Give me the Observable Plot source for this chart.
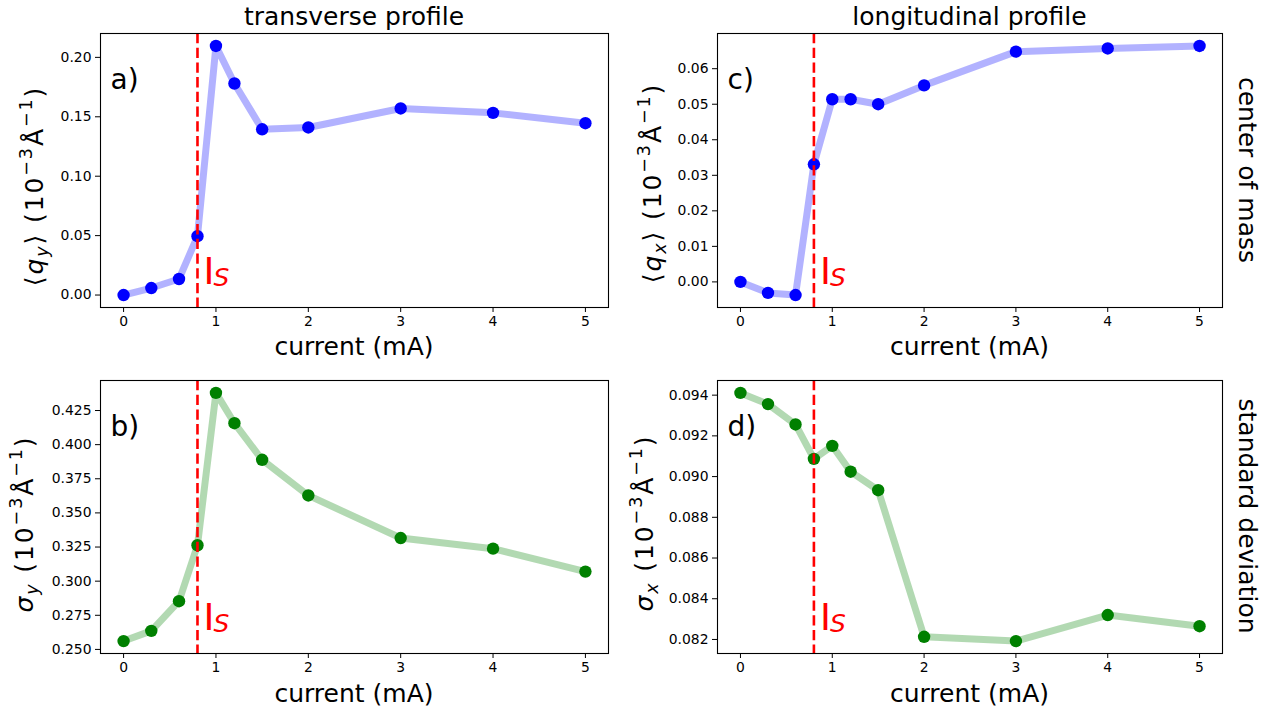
<!DOCTYPE html>
<html><head><meta charset="utf-8">
<script src="https://cdn.jsdelivr.net/npm/d3@7"></script>
<script src="https://cdn.jsdelivr.net/npm/@observablehq/plot@0.6"></script>
<style>
html,body{margin:0;padding:0;background:#fff;}
#fig{position:relative;width:1283px;height:715px;overflow:hidden;background:#fff;font-family:"DejaVu Sans",sans-serif;}
#fig svg{position:absolute;overflow:visible;}
</style></head><body><div id="fig"></div>
<script>
// ---- data ----
const current = [0, 0.3, 0.6, 0.8, 1, 1.2, 1.5, 2, 3, 4, 5];
const qyMean = [0, 0.0059, 0.0135, 0.0495, 0.2096, 0.178, 0.1395, 0.141, 0.157, 0.1533, 0.1446];
const qxMean = [0, -0.0031, -0.0037, 0.0331, 0.0514, 0.0514, 0.0500, 0.0553, 0.0648, 0.0657, 0.0664];
const sigmaY = [0.2561, 0.2636, 0.2853, 0.3263, 0.4379, 0.4157, 0.3889, 0.3628, 0.3316, 0.3238, 0.3070];
const sigmaX = [0.09411, 0.09356, 0.09256, 0.09087, 0.09151, 0.09024, 0.08933, 0.08213, 0.08192, 0.0832, 0.08265];
const currentS = 0.8;
const xTicks = [0, 1, 2, 3, 4, 5];
const qyTicks = [0, 0.05, 0.10, 0.15, 0.20];
const qxTicks = [0, 0.01, 0.02, 0.03, 0.04, 0.05, 0.06];
const syTicks = [0.250, 0.275, 0.300, 0.325, 0.350, 0.375, 0.400, 0.425];
const sxTicks = [0.082, 0.084, 0.086, 0.088, 0.090, 0.092, 0.094];
const columnTitles = ["transverse profile", "longitudinal profile"];
const rowTitles = ["center of mass", "standard deviation"];
const panelLetters = ["a)", "b)", "c)", "d)"];
const xLabel = "current (mA)";
const thresholdLabel = ["I", "S"];

const BLUE = "#0000ff", GREEN = "#008000", RED = "#ff0000";

// y label pieces: [text, kind]
const ylabQy = [["⟨",""],["q","i"],["y","sub"],["⟩ (10",""],["−3","sup"],["Å",""],["−1","sup"],[")",""]];
const ylabQx = [["⟨",""],["q","i"],["x","sub"],["⟩ (10",""],["−3","sup"],["Å",""],["−1","sup"],[")",""]];
const ylabSy = [["σ","i"],["y","sub"],[" (10",""],["−3","sup"],["Å",""],["−1","sup"],[")",""]];
const ylabSx = [["σ","i"],["x","sub"],[" (10",""],["−3","sup"],["Å",""],["−1","sup"],[")",""]];

const panels = [
  {values: qyMean, ticks: qyTicks, fmt: d3.format(".2f"), color: BLUE, letter: panelLetters[0],
   left: 0, top: 0, w: 640, h: 360, ml: 100, mr: 32, mt: 33, mb: 53,
   title: columnTitles[0], xl: 354, xlY: 355, ylab: ylabQy, ylX: 43, ylY: 186},
  {values: qxMean, ticks: qxTicks, fmt: d3.format(".2f"), color: BLUE, letter: panelLetters[2],
   left: 640, top: 0, w: 643, h: 360, ml: 77, mr: 61, mt: 33, mb: 53,
   title: columnTitles[1], xl: 329.5, xlY: 355, ylab: ylabQx, ylX: 21, ylY: 183, row: rowTitles[0], rowY: 170},
  {values: sigmaY, ticks: syTicks, fmt: d3.format(".3f"), color: GREEN, letter: panelLetters[1],
   left: 0, top: 360, w: 640, h: 355, ml: 100, mr: 32, mt: 20, mb: 62,
   xl: 354, xlY: 342, ylab: ylabSy, ylX: 33, ylY: 164},
  {values: sigmaX, ticks: sxTicks, fmt: d3.format(".3f"), color: GREEN, letter: panelLetters[3],
   left: 640, top: 360, w: 643, h: 355, ml: 77, mr: 61, mt: 20, mb: 62,
   xl: 329.5, xlY: 342, ylab: ylabSx, ylX: 13, ylY: 163, row: rowTitles[1], rowY: 156}
];

const fig = document.getElementById("fig");
const xext = d3.extent(current), xpad = (xext[1] - xext[0]) * 0.05;

for (const p of panels) {
  const data = current.map((c, i) => ({c, v: p.values[i]}));
  const ext = d3.extent(p.values), pad = (ext[1] - ext[0]) * 0.05;
  const svg = Plot.plot({
    width: p.w, height: p.h,
    marginLeft: p.ml, marginRight: p.mr, marginTop: p.mt, marginBottom: p.mb,
    style: {fontFamily: "DejaVu Sans", fontSize: "13.9px", color: "black", background: "transparent", overflow: "visible"},
    x: {domain: [xext[0] - xpad, xext[1] + xpad]},
    y: {domain: [ext[0] - pad, ext[1] + pad]},
    marks: [
      Plot.line(data, {x: "c", y: "v", stroke: p.color, strokeOpacity: 0.3, strokeWidth: 7, strokeLinejoin: "round", strokeLinecap: "butt"}),
      Plot.dot(data, {x: "c", y: "v", r: 6.2, fill: p.color, stroke: "none"}),
      Plot.ruleX([currentS], {x: d => d, stroke: RED, strokeWidth: 2.6, strokeDasharray: "10.3,4.4"}),
      Plot.text([p.letter], {frameAnchor: "top-left", dx: 10, dy: 55, text: d => d, fontSize: 28, textAnchor: "start", lineAnchor: "bottom", fill: "black"}),
      Plot.text([currentS], {x: d => d, frameAnchor: "bottom", dx: 6, dy: -24, text: () => thresholdLabel[0], fill: RED, fontSize: 37, textAnchor: "start", lineAnchor: "bottom"}),
      Plot.text([currentS], {x: d => d, frameAnchor: "bottom", dx: 16, dy: -22, text: () => thresholdLabel[1], fill: RED, fontSize: 25, fontStyle: "italic", textAnchor: "start", lineAnchor: "bottom"}),
      Plot.axisX(xTicks, {tickSize: 5, tickPadding: 4, label: null, tickFormat: d => String(d)}),
      Plot.axisY(p.ticks, {tickSize: 5, tickPadding: 4, label: null, tickFormat: p.fmt}),
      Plot.frame({stroke: "black", strokeWidth: 1.1})
    ]
  });
  svg.style.left = p.left + "px";
  svg.style.top = p.top + "px";
  const s = d3.select(svg);
  if (p.title) s.append("text").attr("x", p.xl).attr("y", 25).attr("text-anchor", "middle")
    .attr("font-size", 25).attr("fill", "black").text(p.title);
  s.append("text").attr("x", p.xl).attr("y", p.xlY).attr("text-anchor", "middle")
    .attr("font-size", 25).attr("fill", "black").text(xLabel);
  const yl = s.append("text").attr("transform", `translate(${p.ylX},${p.ylY}) rotate(-90)`)
    .attr("text-anchor", "middle").attr("font-size", 25).attr("letter-spacing", "1.9px").attr("fill", "black");
  let shift = 0;
  for (const [t, k] of p.ylab) {
    const ts = yl.append("tspan").text(t);
    let target = 0;
    if (k === "sub") { target = 5; ts.attr("font-size", 17.5).attr("font-style", "italic"); }
    else if (k === "sup") { target = -11; ts.attr("font-size", 17.5); }
    else if (k === "i") { ts.attr("font-style", "italic"); }
    ts.attr("dy", target - shift);
    shift = target;
  }
  if (p.row) s.append("text").attr("transform", `translate(599,${p.rowY}) rotate(90)`)
    .attr("text-anchor", "middle").attr("font-size", 25).attr("fill", "black").text(p.row);
  fig.appendChild(svg);
}
</script></body></html>
